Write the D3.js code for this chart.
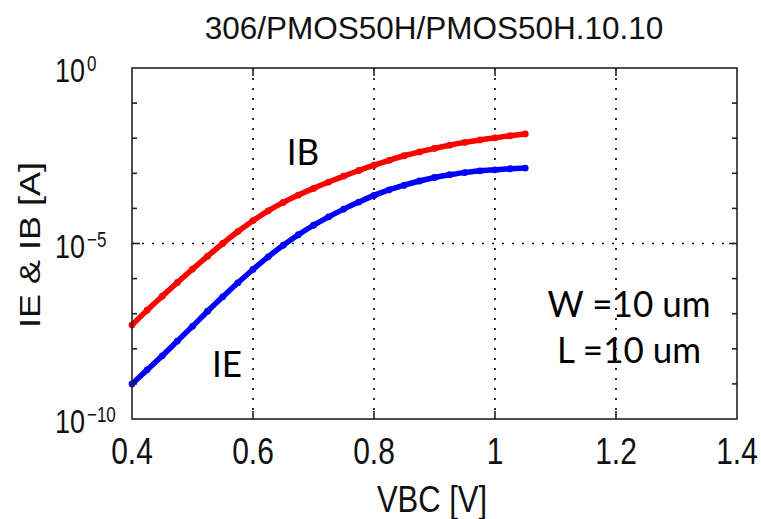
<!DOCTYPE html>
<html>
<head>
<meta charset="utf-8">
<script src="https://cdn.jsdelivr.net/npm/d3@7"></script>
<style>
  html, body { margin: 0; padding: 0; background: #fff; }
  svg { display: block; }
  text { font-family: "Liberation Sans", Arial, sans-serif; fill: #111; }
  .note { font-family: Lato, "Open Sans", sans-serif; fill: #000; }
</style>
</head>
<body>
<svg id="chart" width="761" height="519"></svg>
<script>
// Measured base-collector sweep, currents as log10(A)
const vbc = [0.40, 0.425, 0.45, 0.475, 0.50, 0.525, 0.55, 0.575, 0.60, 0.625, 0.65, 0.675, 0.70,
             0.725, 0.75, 0.775, 0.80, 0.825, 0.85, 0.875, 0.90, 0.925, 0.95, 0.975, 1.00, 1.025, 1.05];
const logIB = [-7.32, -6.90, -6.50, -6.11, -5.73, -5.36, -5.00, -4.66, -4.35, -4.07, -3.83, -3.62, -3.43,
               -3.25, -3.08, -2.92, -2.77, -2.63, -2.50, -2.39, -2.29, -2.20, -2.12, -2.05, -1.99, -1.93, -1.88];
const logIE = [-9.00, -8.60, -8.20, -7.78, -7.36, -6.93, -6.52, -6.12, -5.74, -5.38, -5.05, -4.75, -4.48,
               -4.24, -4.02, -3.82, -3.63, -3.47, -3.34, -3.22, -3.12, -3.04, -2.98, -2.93, -2.90, -2.87, -2.85];

const xTicks = [0.4, 0.6, 0.8, 1.0, 1.2, 1.4];
const xTickLabels = ["0.4", "0.6", "0.8", "1", "1.2", "1.4"];
const yMajorExp = [0, -5, -10];
const yMinorExp = [-1, -2, -3, -4, -6, -7, -8, -9];

const titleText = "306/PMOS50H/PMOS50H.10.10";
const xLabel = "VBC [V]";
const yLabel = "IE & IB [A]";

const svg = d3.select("#chart");
const L = 132, R = 737, T = 68, B = 419;

const x = d3.scaleLinear().domain([0.4, 1.4]).range([L, R]);
const y = d3.scaleLog().domain([1e-10, 1]).range([B, T]);

const series = [
  { name: "IB", color: "#ff0000", vals: logIB },
  { name: "IE", color: "#0000ff", vals: logIE }
];

// dotted grid at interior major ticks
const grid = svg.append("g").attr("stroke", "#000").attr("stroke-width", 1.6)
  .attr("stroke-dasharray", "2,8");
xTicks.slice(1, -1).forEach(v => {
  grid.append("line").attr("x1", x(v)).attr("x2", x(v)).attr("y1", T).attr("y2", B);
});
yMajorExp.slice(1, -1).forEach(e => {
  grid.append("line").attr("x1", L).attr("x2", R).attr("y1", y(Math.pow(10, e))).attr("y2", y(Math.pow(10, e)));
});

// data traces
const line = d3.line().curve(d3.curveMonotoneX).x(d => x(d[0])).y(d => y(d[1]));
series.forEach(s => {
  const pts = vbc.map((v, i) => [v, Math.pow(10, s.vals[i])]);
  svg.append("path").datum(pts).attr("d", line)
    .attr("fill", "none").attr("stroke", s.color).attr("stroke-width", 5.5)
    .attr("stroke-linejoin", "round").attr("stroke-linecap", "round");
  svg.append("g").selectAll("circle").data(pts).join("circle")
    .attr("cx", d => x(d[0])).attr("cy", d => y(d[1])).attr("r", 3.4)
    .attr("fill", s.color);
});

// frame
svg.append("rect").attr("x", L).attr("y", T).attr("width", R - L).attr("height", B - T)
  .attr("fill", "none").attr("stroke", "#222").attr("stroke-width", 1.6);

// inward ticks on all four sides
const ticks = svg.append("g").attr("stroke", "#222").attr("stroke-width", 1.6);
xTicks.slice(1, -1).forEach(v => {
  ticks.append("line").attr("x1", x(v)).attr("x2", x(v)).attr("y1", B).attr("y2", B - 8);
  ticks.append("line").attr("x1", x(v)).attr("x2", x(v)).attr("y1", T).attr("y2", T + 8);
});
yMinorExp.concat(yMajorExp.slice(1, -1)).forEach(e => {
  const yy = y(Math.pow(10, e));
  const len = yMajorExp.includes(e) ? 8 : 5;
  ticks.append("line").attr("x1", L).attr("x2", L + len).attr("y1", yy).attr("y2", yy);
  ticks.append("line").attr("x1", R).attr("x2", R - len).attr("y1", yy).attr("y2", yy);
});

// x tick labels
xTicks.forEach((v, i) => {
  svg.append("text")
    .attr("transform", `translate(${x(v)},464) scale(1,1.2)`)
    .attr("text-anchor", "middle").attr("font-size", 30)
    .text(xTickLabels[i]);
});

// y tick labels as powers of ten
yMajorExp.forEach(e => {
  const yy = y(Math.pow(10, e));
  const g = svg.append("g").attr("transform", `translate(55,${yy + 14})`);
  g.append("text").attr("transform", "scale(1,1.25)").attr("font-size", 27).text("10");
  const sup = e === 0 ? "0" : "\u2212" + Math.abs(e);
  g.append("text").attr("transform", "translate(32,-11) scale(1,1.25)")
    .attr("font-size", 17).text(sup);
});

// title and axis labels
svg.append("text").attr("x", 434).attr("y", 39).attr("text-anchor", "middle")
  .attr("font-size", 31.5).text(titleText);
svg.append("text")
  .attr("transform", "translate(432,512) scale(1,1.2)")
  .attr("text-anchor", "middle").attr("font-size", 31).text(xLabel);
svg.append("text")
  .attr("transform", "translate(40,245) rotate(-90) scale(1.2,1)")
  .attr("text-anchor", "middle").attr("font-size", 30).text(yLabel);

// curve and device annotations
const notes = [
  { t: "IB", x: 303, y: 165 },
  { t: "IE", x: 227, y: 377 },
  { t: "W =10 um", x: 629, y: 317 },
  { t: "L =10 um", x: 629, y: 363 }
];
notes.forEach(n => {
  svg.append("text").attr("class", "note")
    .attr("transform", `translate(${n.x},${n.y}) scale(1,1.05)`)
    .attr("text-anchor", "middle").attr("font-size", 35).text(n.t);
});
</script>
</body>
</html>
